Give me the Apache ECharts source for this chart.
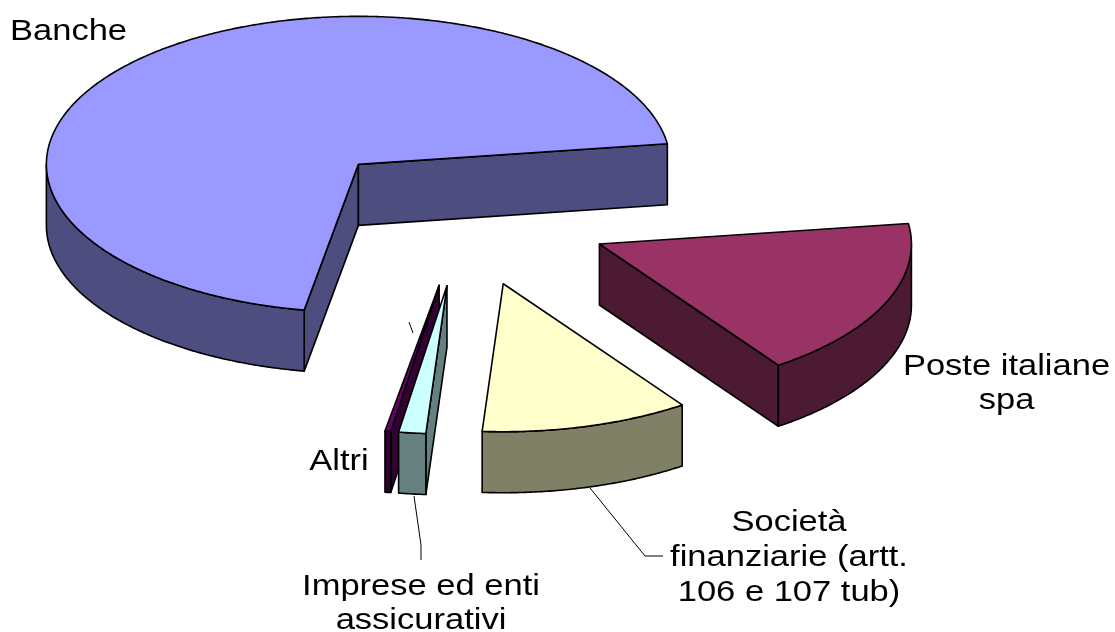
<!DOCTYPE html>
<html>
<head>
<meta charset="utf-8">
<style>html,body{margin:0;padding:0;background:#fff}#c{width:1115px;height:632px}</style>
<script src="https://cdn.jsdelivr.net/npm/echarts@6/dist/echarts.min.js"></script>
</head>
<body>
<div id="c"></div>
<script>
var categories = ['Banche', 'Poste italiane\nspa', 'Società\nfinanziarie (artt.\n106 e 107 tub)', 'Imprese ed enti\nassicurativi', 'Altri'];
var shares = [70, 17.5, 10.8, 1.4, 0.3];
var explodes = [0.485, 0.475, 0.475, 0.475, 0.475];
var topColors = ['#9999FF', '#993366', '#FFFFCC', '#CCFFFF', '#660066'];
var sideColors = ['#4D4D80', '#4D1A33', '#808066', '#668080', '#330033'];
var drawRank = [0, 1, 4, 3, 2];

var pie = { cx: 463.5, cy: 216, rx: 312, ry: 148, depth: 61, startDeg: 100 };
var labelBoxes = [
  { x: 68.5, y: 32, lh: 34 }, { x: 1006.5, y: 384, lh: 34 }, { x: 789, y: 558, lh: 35 }, { x: 421, y: 604, lh: 34 }, { x: 339, y: 462, lh: 34 }
];
var leaders = [
  [[414, 496], [421, 545], [421, 560]],
  [[590, 488], [645, 556], [663, 556]],
  [[409, 322], [413, 333]]
];
var textScaleX = 1.19;

var total = shares.reduce(function (a, b) { return a + b; }, 0);
var starts = [], acc = pie.startDeg;
shares.forEach(function (v) { starts.push(acc); acc += v / total * 360; });

function pt(ox, oy, deg, dy) {
  var r = deg * Math.PI / 180;
  return [ox + pie.rx * Math.cos(r), oy + pie.ry * Math.sin(r) + (dy || 0)];
}
function renderSlice(params, api) {
  var i = params.dataIndex, a0 = starts[i], a1 = a0 + api.value(0) / total * 360;
  var mid = (a0 + a1) / 2 * Math.PI / 180;
  var ox = pie.cx + explodes[i] * pie.rx * Math.cos(mid);
  var oy = pie.cy + explodes[i] * pie.ry * Math.sin(mid);
  var d = pie.depth, base = drawRank[i] * 10, kids = [];
  var line = { stroke: '#000', lineWidth: 1.6, lineJoin: 'round' };
  function add(points, fill, z) {
    kids.push({ type: 'polygon', z2: base + z, shape: { points: points },
      style: Object.assign({ fill: fill }, line) });
  }
  function radial(a) {
    var p = pt(ox, oy, a), q = pt(ox, oy, a, d);
    add([[ox, oy], p, q, [ox, oy + d]], sideColors[i], 1);
  }
  if (Math.cos(a0 * Math.PI / 180) < 0) radial(a0);
  if (Math.cos(a1 * Math.PI / 180) > 0) radial(a1);
  [0, 360].forEach(function (turn) {
    var lo = Math.max(a0, turn), hi = Math.min(a1, turn + 180);
    if (hi > lo) {
      var upper = [], lower = [];
      for (var t = lo; t < hi; t += 0.5) { upper.push(pt(ox, oy, t)); lower.unshift(pt(ox, oy, t, d)); }
      upper.push(pt(ox, oy, hi)); lower.unshift(pt(ox, oy, hi, d));
      add(upper.concat(lower), sideColors[i], 2);
    }
  });
  var top = [[ox, oy]];
  for (var s = a0; s < a1; s += 0.5) top.push(pt(ox, oy, s));
  top.push(pt(ox, oy, a1));
  add(top, topColors[i], 3);
  return { type: 'group', children: kids };
}

var chart = echarts.init(document.getElementById('c'), null, { renderer: 'canvas' });
var graphics = leaders.map(function (pts) {
  return { type: 'polyline', silent: true, z: 5, shape: { points: pts },
    style: { stroke: '#000', lineWidth: 1, fill: null } };
}).concat(categories.map(function (name, i) {
  return { type: 'text', silent: true, z: 6, x: labelBoxes[i].x, y: labelBoxes[i].y, scaleX: textScaleX,
    style: { text: name, fill: '#000', font: '29px "Liberation Sans", Arial, sans-serif',
      lineHeight: labelBoxes[i].lh, align: 'center', verticalAlign: 'middle' } };
}));
chart.setOption({
  animation: false,
  backgroundColor: '#fff',
  graphic: graphics,
  series: [{
    type: 'custom', coordinateSystem: 'none', silent: true,
    data: shares.map(function (v) { return [v]; }),
    renderItem: renderSlice
  }]
});
</script>
</body>
</html>
